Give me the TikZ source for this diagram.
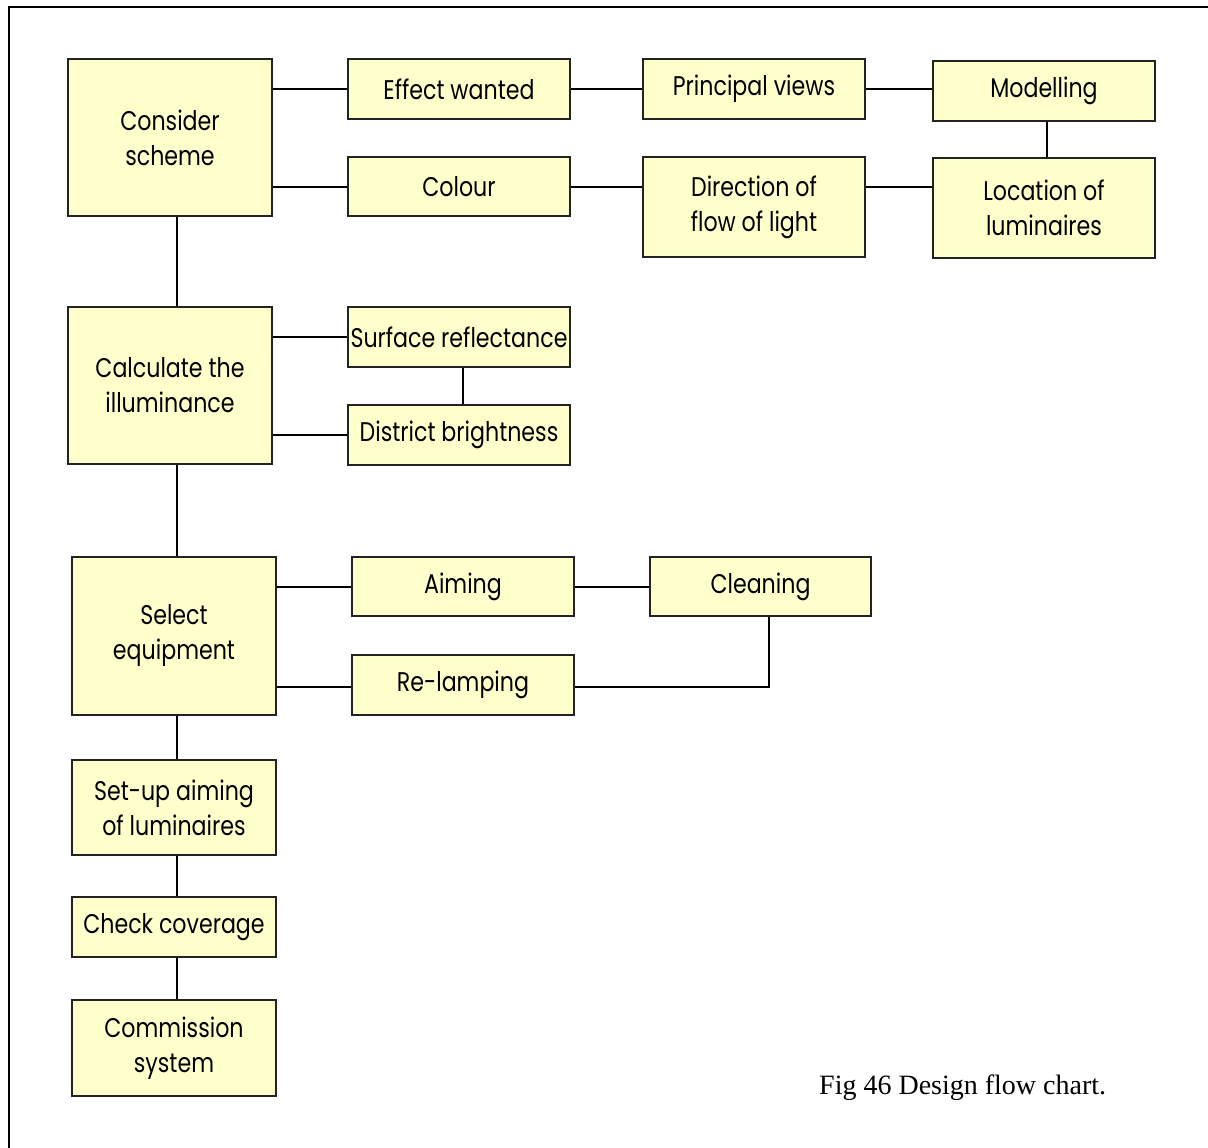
\documentclass[tikz,border=0pt]{standalone}
\usepackage{fontspec}
\setmainfont{Liberation Serif}
\newfontfamily\boxfont{Poppins}[FakeStretch=0.82]
\usetikzlibrary{calc}
\definecolor{boxfill}{RGB}{255,255,204}
\definecolor{boxline}{RGB}{35,35,35}
\tikzset{
  fbox/.style={draw=boxline, line width=2pt, fill=boxfill, inner sep=0pt,
    align=center, font=\boxfont\fontsize{27}{35}\selectfont, text=black},
  link/.style={draw=black, line width=2pt},
  frame/.style={draw=black, line width=2.6pt}
}
\begin{document}
\begin{tikzpicture}[x=1pt,y=-1pt]
\useasboundingbox (0,0) rectangle (1208,1148);
\coordinate (fa) at (9,1150);
\coordinate (fb) at (9,7);
\coordinate (fc) at (1210,7);
\draw[frame] (fa) -- (fb) -- (fc);

\node[fbox, minimum width=204pt, minimum height=157pt] (cs) at (170,137.5) {Consider\\scheme};
\node[fbox, minimum width=222pt, minimum height=60pt] (ew) at (459,89) {Effect wanted};
\node[fbox, minimum width=222pt, minimum height=60pt] (pv) at (754,89) {Principal views};
\node[fbox, minimum width=222pt, minimum height=60pt] (mo) at (1044,91) {Modelling};
\node[fbox, minimum width=222pt, minimum height=100pt] (lo) at (1044,207.5) {Location of\\luminaires};
\node[fbox, minimum width=222pt, minimum height=59pt] (co) at (459,186.5) {Colour};
\node[fbox, minimum width=222pt, minimum height=100pt] (df) at (754,207) {Direction of\\flow of light};

\node[fbox, minimum width=204pt, minimum height=157pt] (ci) at (170,385.5) {Calculate the\\illuminance};
\node[fbox, minimum width=222pt, minimum height=60pt] (sr) at (459,337) {Surface reflectance};
\node[fbox, minimum width=222pt, minimum height=60pt] (db) at (459,435) {District brightness};

\node[fbox, minimum width=204pt, minimum height=158pt] (se) at (174,636) {Select\\equipment};
\node[fbox, minimum width=222pt, minimum height=59pt] (ai) at (463,586.5) {Aiming};
\node[fbox, minimum width=221pt, minimum height=59pt] (cl) at (760.5,586.5) {Cleaning};
\node[fbox, minimum width=222pt, minimum height=60pt] (rl) at (463,685) {Re-lamping};

\node[fbox, minimum width=204pt, minimum height=95pt] (su) at (174,807.5) {Set-up aiming\\of luminaires};
\node[fbox, minimum width=204pt, minimum height=60pt] (cc) at (174,927) {Check coverage};
\node[fbox, minimum width=204pt, minimum height=96pt] (cm) at (174,1048) {Commission\\system};

\node[font=\fontsize{28}{32}\selectfont, anchor=base west, inner sep=0pt] (cap) at (819,1094) {Fig 46 Design flow chart.};

\coordinate (spine) at (177,0);
\coordinate (corner) at (769,687);

\draw[link] (ew.west) -- (ew.west -| cs.east);
\draw[link] (co.west) -- (co.west -| cs.east);
\draw[link] (ew.east) -- (pv.west);
\draw[link] (pv.east) -- (pv.east -| mo.west);
\draw[link] (co.east) -- (co.east -| df.west);
\draw[link] (df.east |- co.east) -- (lo.west |- co.east);
\draw[link] (mo.south -| 1047,0) -- (lo.north -| 1047,0);

\draw[link] (cs.south -| spine) -- (ci.north -| spine);
\draw[link] (ci.east |- sr.west) -- (sr.west);
\draw[link] (ci.east |- db.west) -- (db.west);
\draw[link] (sr.south -| 463,0) -- (db.north -| 463,0);

\draw[link] (ci.south -| spine) -- (se.north -| spine);
\draw[link] (se.east |- ai.west) -- (ai.west);
\draw[link] (se.east |- corner) -- (rl.west |- corner);
\draw[link] (ai.east) -- (cl.west);
\draw[link] (cl.south -| corner) -- (corner) -- (rl.east |- corner);

\draw[link] (se.south -| spine) -- (su.north -| spine);
\draw[link] (su.south -| spine) -- (cc.north -| spine);
\draw[link] (cc.south -| spine) -- (cm.north -| spine);
\end{tikzpicture}
\end{document}
